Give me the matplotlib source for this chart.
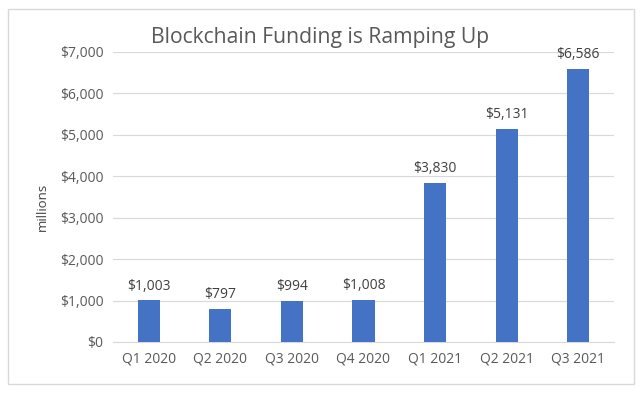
import matplotlib
matplotlib.use("Agg")
import matplotlib.pyplot as plt
from matplotlib.patches import Rectangle

categories = ["Q1 2020", "Q2 2020", "Q3 2020", "Q4 2020", "Q1 2021", "Q2 2021", "Q3 2021"]
values = [1003, 797, 994, 1008, 3830, 5131, 6586]
yticks = [0, 1000, 2000, 3000, 4000, 5000, 6000, 7000]

plt.rcParams['font.family'] = ['Open Sans', 'DejaVu Sans']
W, H = 642, 393
fig = plt.figure(figsize=(W/100, H/100), dpi=100)
fig.patches.append(Rectangle((8/W, 9/H), 626/W, 375/H, transform=fig.transFigure,
                             fill=False, edgecolor="#D9D9D9", linewidth=1))

ax = fig.add_axes([113/W, 51/H, 501/W, 290/H])
x = range(len(categories))
ax.bar(x, values, width=0.31, color="#4472C4", zorder=3)
ax.set_xlim(-0.5, len(categories) - 0.5)
ax.set_ylim(0, 7000)
ax.set_yticks(yticks)
ax.set_yticklabels([f"${v:,}" for v in yticks])
ax.set_xticks(list(x))
ax.set_xticklabels(categories)
ax.grid(axis="y", color="#D9D9D9", linewidth=0.8, zorder=0)
for s in ["top", "right", "left"]:
    ax.spines[s].set_visible(False)
ax.spines["bottom"].set_color("#D9D9D9")
ax.tick_params(axis="both", length=0, colors="#595959", labelsize=10)
ax.tick_params(axis="x", pad=7)
ax.tick_params(axis="y", pad=7)
for xi, v in zip(x, values):
    ax.annotate(f"${v:,}", (xi, v), xytext=(0, 5), textcoords="offset points",
                ha="center", va="bottom", fontsize=10, color="#404040")
fig.text(42/W, 1 - 207/H, "millions", rotation=90, ha="center", va="center",
         fontsize=9.5, color="#404040")
fig.text(320/W, 1 - 38/H, "Blockchain Funding is Ramping Up", ha="center", va="center",
         fontsize=15.2, color="#595959")
fig.savefig("out.png", dpi=100)
